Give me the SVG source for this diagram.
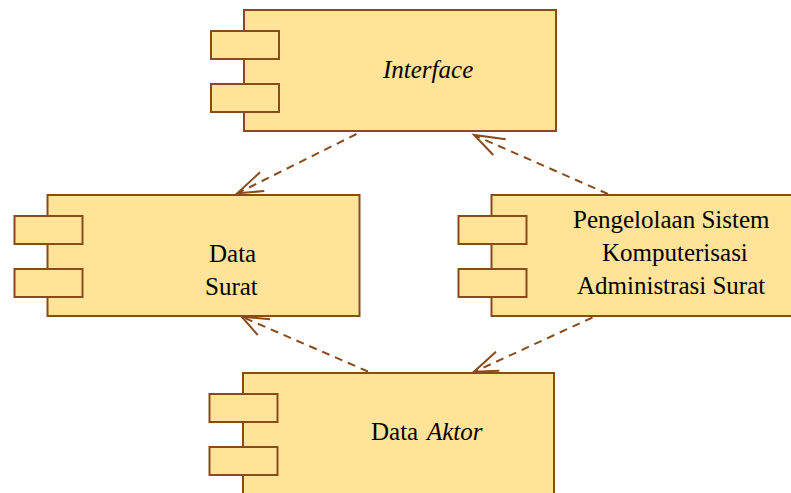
<svg xmlns="http://www.w3.org/2000/svg" width="791" height="493" viewBox="0 0 791 493">
<rect width="791" height="493" fill="#fff"/>
<g id="interface">
<rect x="244" y="10" width="312" height="121" fill="#FEE398" stroke="#8A4B1C" stroke-width="2"/>
<rect x="211" y="31" width="68" height="28" fill="#FEE398" stroke="#8A4B1C" stroke-width="2"/>
<rect x="211" y="84" width="68" height="28" fill="#FEE398" stroke="#8A4B1C" stroke-width="2"/>
<text x="383" y="78" font-family="Liberation Serif" font-size="25" font-style="italic">Interface</text>
</g>
<g id="data-surat">
<rect x="47.5" y="195" width="312" height="121" fill="#FEE398" stroke="#8A4B1C" stroke-width="2"/>
<rect x="14.5" y="216" width="68" height="28" fill="#FEE398" stroke="#8A4B1C" stroke-width="2"/>
<rect x="14.5" y="269" width="68" height="28" fill="#FEE398" stroke="#8A4B1C" stroke-width="2"/>
<text x="209" y="262" font-family="Liberation Serif" font-size="25">Data</text>
<text x="205" y="295" font-family="Liberation Serif" font-size="25">Surat</text>
</g>
<g id="pengelolaan">
<rect x="491.5" y="195" width="320" height="121" fill="#FEE398" stroke="#8A4B1C" stroke-width="2"/>
<rect x="458.5" y="216" width="68" height="28" fill="#FEE398" stroke="#8A4B1C" stroke-width="2"/>
<rect x="458.5" y="269" width="68" height="28" fill="#FEE398" stroke="#8A4B1C" stroke-width="2"/>
<text x="573" y="228" font-family="Liberation Serif" font-size="25">Pengelolaan Sistem</text>
<text x="602" y="261" font-family="Liberation Serif" font-size="25">Komputerisasi</text>
<text x="577" y="294" font-family="Liberation Serif" font-size="25">Administrasi Surat</text>
</g>
<g id="data-aktor">
<rect x="243" y="373" width="311" height="140" fill="#FEE398" stroke="#8A4B1C" stroke-width="2"/>
<rect x="209.5" y="394" width="68" height="28" fill="#FEE398" stroke="#8A4B1C" stroke-width="2"/>
<rect x="209.5" y="447" width="68" height="28" fill="#FEE398" stroke="#8A4B1C" stroke-width="2"/>
<text x="371" y="440" font-family="Liberation Serif" font-size="25">Data</text>
<text x="427" y="440" font-family="Liberation Serif" font-size="25" font-style="italic">Aktor</text>
</g>
<g id="connectors" fill="none" stroke="#8A4B1C" stroke-width="2">
<line stroke-dasharray="8,6" x1="356.5" y1="134" x2="239" y2="192.5"/>
<polyline points="260,172.3 237.3,193.3 264.3,191"/>
<line stroke-dasharray="8,6" x1="608" y1="194" x2="476" y2="136"/>
<polyline points="493.3,155 474,135 505.7,139.3"/>
<line stroke-dasharray="8,6" x1="368" y1="371.5" x2="243.5" y2="317.5"/>
<polyline points="257.7,335 241.7,316.7 270,319.3"/>
<line stroke-dasharray="8,6" x1="592.5" y1="317.5" x2="476" y2="371"/>
<polyline points="496,351.7 474,371.7 499.3,370.7"/>
</g>
</svg>
